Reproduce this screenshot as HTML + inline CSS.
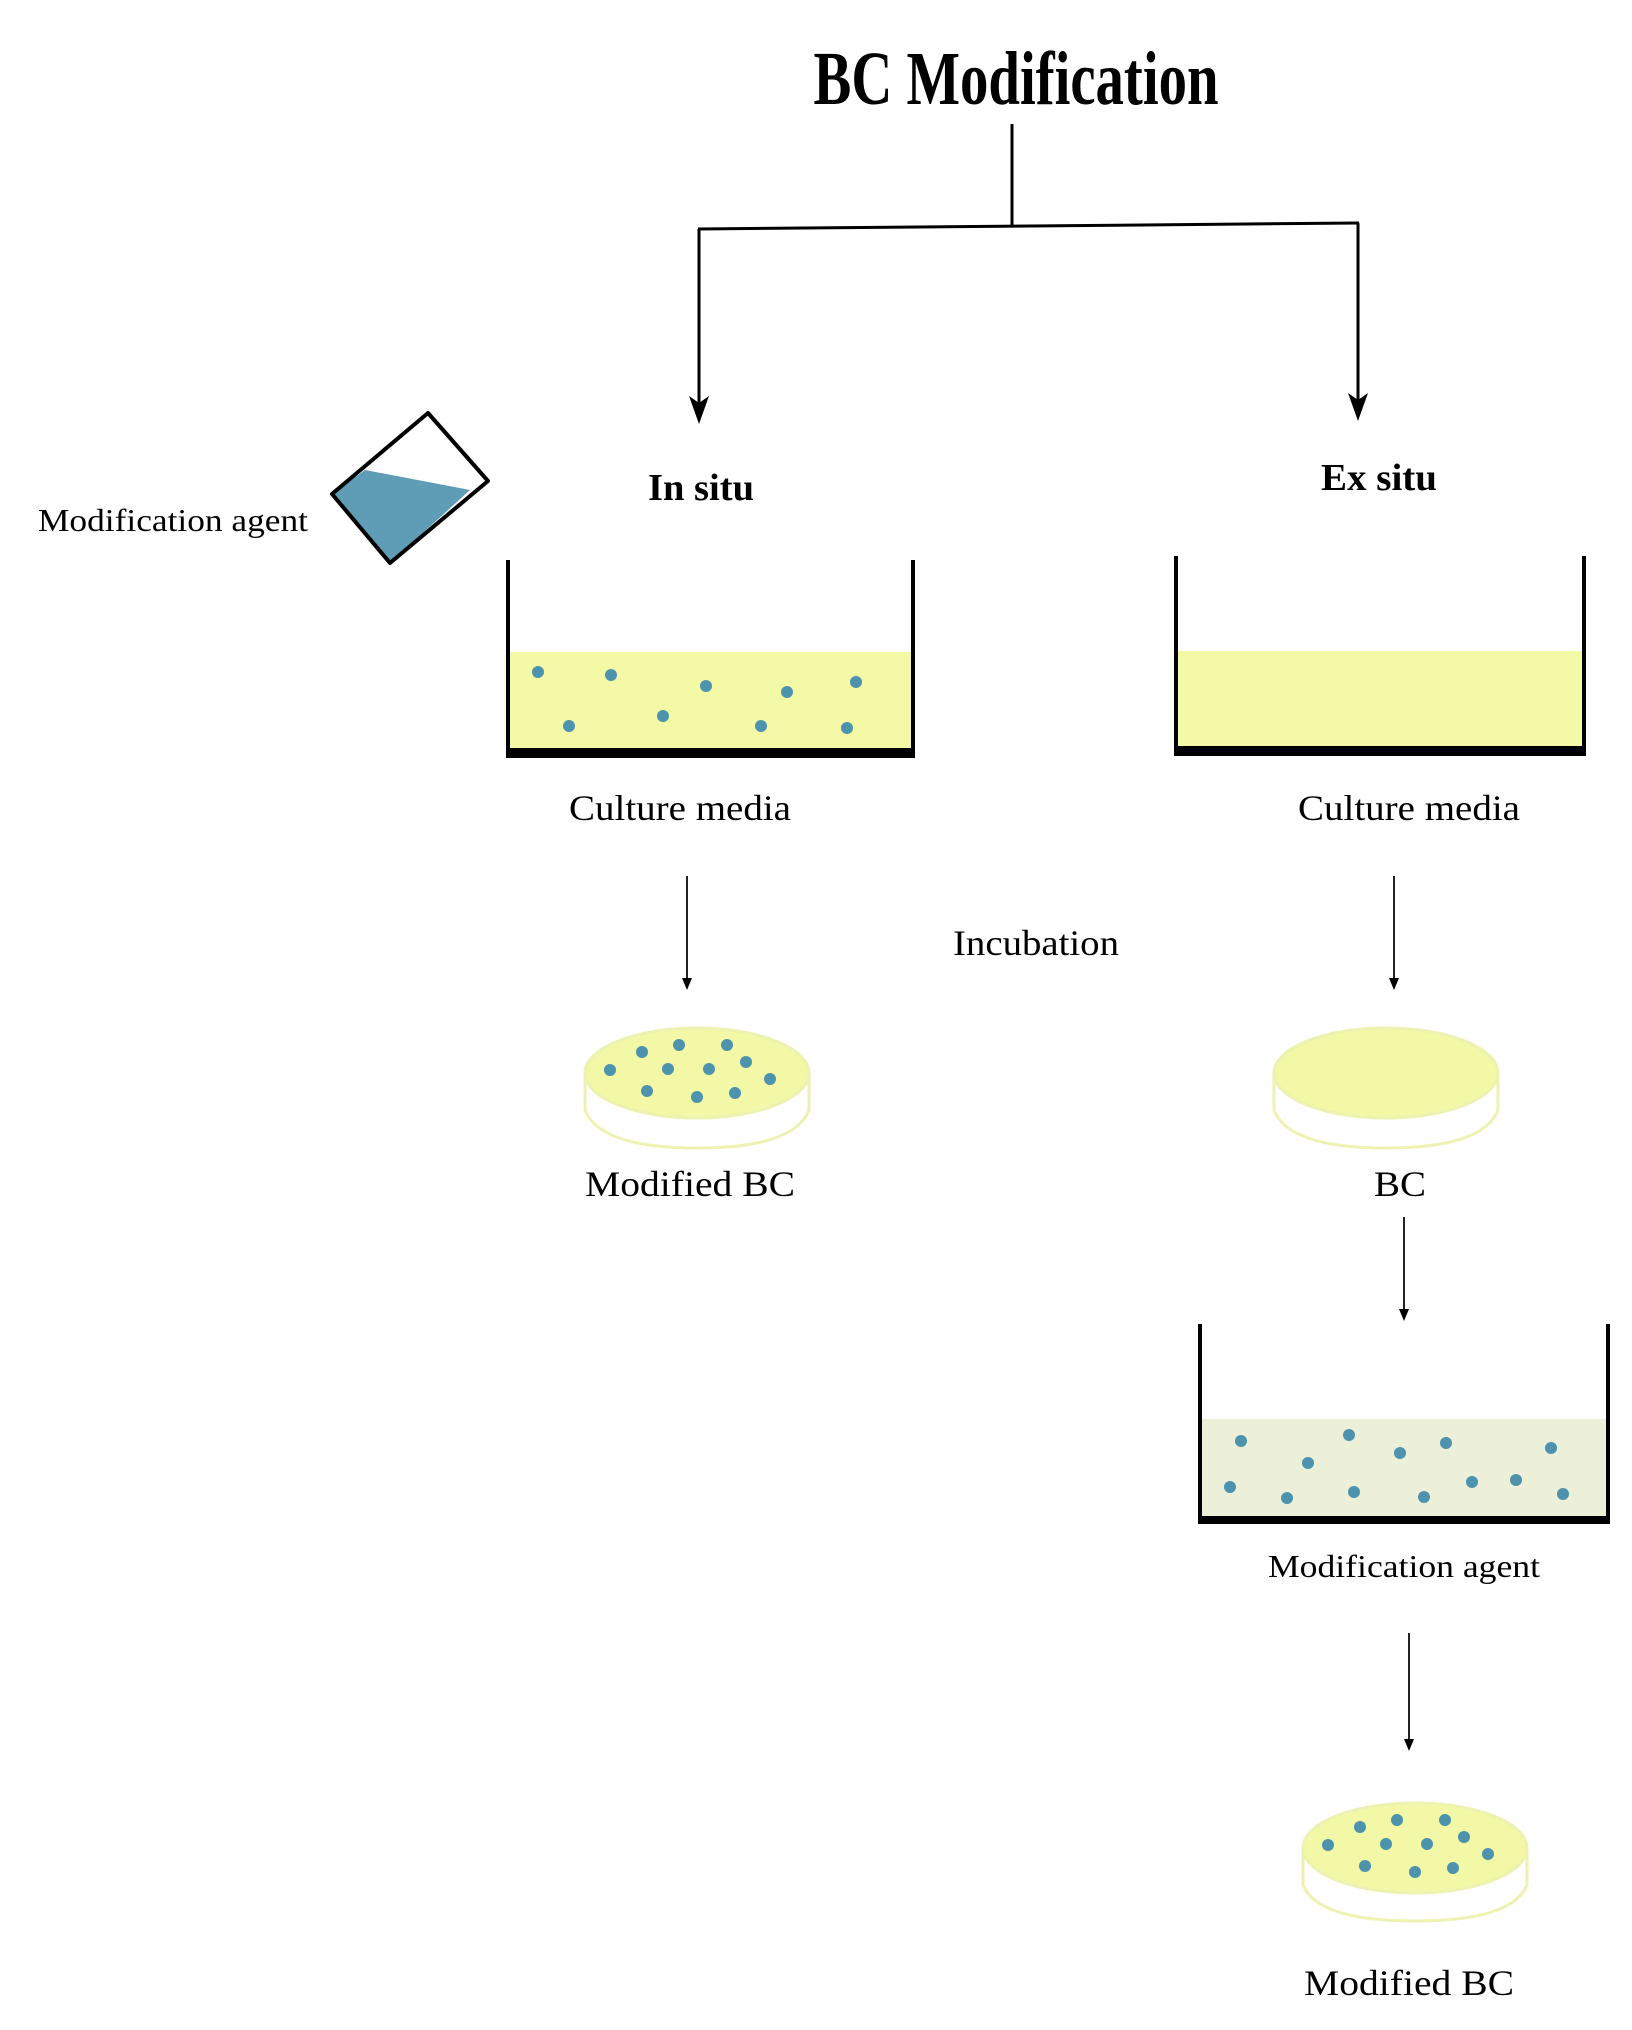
<!DOCTYPE html>
<html><head><meta charset="utf-8"><style>html,body{margin:0;padding:0;background:#fff}svg{display:block}</style></head>
<body>
<svg width="1632" height="2030" viewBox="0 0 1632 2030" xmlns="http://www.w3.org/2000/svg" font-family="'Liberation Serif', serif">
<text x="1016" y="104" text-anchor="middle" font-size="76" font-weight="bold" textLength="405" lengthAdjust="spacingAndGlyphs">BC Modification</text>
<line x1="1012" y1="124" x2="1012" y2="226" stroke="#000" stroke-width="3"/>
<line x1="698" y1="229" x2="1359" y2="223" stroke="#000" stroke-width="3"/>
<line x1="699" y1="229" x2="699" y2="405" stroke="#000" stroke-width="3"/>
<polygon points="689,396 699,403 709,396 699,424" fill="#000"/>
<line x1="1358" y1="223" x2="1358" y2="402" stroke="#000" stroke-width="3"/>
<polygon points="1348,393 1358,400 1368,393 1358,421" fill="#000"/>
<text x="701" y="500" text-anchor="middle" font-size="38" font-weight="bold" textLength="106" lengthAdjust="spacingAndGlyphs">In situ</text>
<text x="1379" y="490" text-anchor="middle" font-size="38" font-weight="bold" textLength="116" lengthAdjust="spacingAndGlyphs">Ex situ</text>
<text x="173" y="531" text-anchor="middle" font-size="32" textLength="270" lengthAdjust="spacingAndGlyphs">Modification agent</text>
<polygon points="365,470 470,490 390,563 332,494 350,481" fill="#5f9cb6"/>
<polygon points="428,413 488,481 390,563 332,494" fill="none" stroke="#000" stroke-width="4" stroke-linejoin="round"/>
<rect x="509" y="652" width="403" height="98" fill="#f3f9a4"/>
<g fill="#4e93ad"><circle cx="538" cy="672" r="6"/><circle cx="611" cy="675" r="6"/><circle cx="706" cy="686" r="6"/><circle cx="787" cy="692" r="6"/><circle cx="856" cy="682" r="6"/><circle cx="569" cy="726" r="6"/><circle cx="663" cy="716" r="6"/><circle cx="761" cy="726" r="6"/><circle cx="847" cy="728" r="6"/></g>
<path d="M508,560 V754 H913 V560" fill="none" stroke="#000" stroke-width="4"/>
<rect x="506" y="748" width="409" height="10" fill="#000"/>
<rect x="1177" y="651" width="406" height="97" fill="#f3f9a4"/>
<path d="M1176,556 V752 H1584 V556" fill="none" stroke="#000" stroke-width="4"/>
<rect x="1174" y="746" width="412" height="10" fill="#000"/>
<text x="680" y="820" text-anchor="middle" font-size="36" textLength="222" lengthAdjust="spacingAndGlyphs">Culture media</text>
<text x="1409" y="820" text-anchor="middle" font-size="36" textLength="222" lengthAdjust="spacingAndGlyphs">Culture media</text>
<line x1="687" y1="876" x2="687" y2="982" stroke="#222" stroke-width="2"/>
<polygon points="682,978 692,978 687,990" fill="#000"/>
<line x1="1394" y1="876" x2="1394" y2="982" stroke="#222" stroke-width="2"/>
<polygon points="1389,978 1399,978 1394,990" fill="#000"/>
<text x="1036" y="955" text-anchor="middle" font-size="36" textLength="166" lengthAdjust="spacingAndGlyphs">Incubation</text>
<g stroke="#eef2b0" stroke-width="3">
<path d="M585,1073 V1110 Q600,1148 697,1148 Q794,1148 809,1110 V1073" fill="#fff"/>
<ellipse cx="697" cy="1073" rx="112" ry="45" fill="#f2f8a6"/>
</g>
<g fill="#4e93ad"><circle cx="610" cy="1070" r="6"/><circle cx="642" cy="1052" r="6"/><circle cx="679" cy="1045" r="6"/><circle cx="727" cy="1045" r="6"/><circle cx="668" cy="1069" r="6"/><circle cx="709" cy="1069" r="6"/><circle cx="746" cy="1062" r="6"/><circle cx="647" cy="1091" r="6"/><circle cx="697" cy="1097" r="6"/><circle cx="735" cy="1093" r="6"/><circle cx="770" cy="1079" r="6"/></g>
<text x="690" y="1196" text-anchor="middle" font-size="36" textLength="210" lengthAdjust="spacingAndGlyphs">Modified BC</text>
<g stroke="#eef2b0" stroke-width="3">
<path d="M1274,1073 V1110 Q1289,1148 1386,1148 Q1483,1148 1498,1110 V1073" fill="#fff"/>
<ellipse cx="1386" cy="1073" rx="112" ry="45" fill="#f2f8a6"/>
</g>
<text x="1400" y="1196" text-anchor="middle" font-size="36" textLength="52" lengthAdjust="spacingAndGlyphs">BC</text>
<line x1="1404" y1="1217" x2="1404" y2="1313" stroke="#222" stroke-width="2"/>
<polygon points="1399,1309 1409,1309 1404,1321" fill="#000"/>
<rect x="1201" y="1419" width="406" height="98" fill="#ecf0d8"/>
<g fill="#4e93ad"><circle cx="1241" cy="1441" r="6"/><circle cx="1349" cy="1435" r="6"/><circle cx="1400" cy="1453" r="6"/><circle cx="1446" cy="1443" r="6"/><circle cx="1551" cy="1448" r="6"/><circle cx="1308" cy="1463" r="6"/><circle cx="1230" cy="1487" r="6"/><circle cx="1287" cy="1498" r="6"/><circle cx="1354" cy="1492" r="6"/><circle cx="1424" cy="1497" r="6"/><circle cx="1472" cy="1482" r="6"/><circle cx="1516" cy="1480" r="6"/><circle cx="1563" cy="1494" r="6"/></g>
<path d="M1200,1324 V1520 H1608 V1324" fill="none" stroke="#000" stroke-width="4"/>
<rect x="1198" y="1516" width="412" height="8" fill="#000"/>
<text x="1404" y="1577" text-anchor="middle" font-size="32" textLength="272" lengthAdjust="spacingAndGlyphs">Modification agent</text>
<line x1="1409" y1="1633" x2="1409" y2="1743" stroke="#222" stroke-width="2"/>
<polygon points="1404,1739 1414,1739 1409,1751" fill="#000"/>
<g stroke="#eef2b0" stroke-width="3">
<path d="M1303,1848 V1885 Q1318,1921 1415,1921 Q1512,1921 1527,1885 V1848" fill="#fff"/>
<ellipse cx="1415" cy="1848" rx="112" ry="45" fill="#f2f8a6"/>
</g>
<g fill="#4e93ad"><circle cx="1328" cy="1845" r="6"/><circle cx="1360" cy="1827" r="6"/><circle cx="1397" cy="1820" r="6"/><circle cx="1445" cy="1820" r="6"/><circle cx="1386" cy="1844" r="6"/><circle cx="1427" cy="1844" r="6"/><circle cx="1464" cy="1837" r="6"/><circle cx="1365" cy="1866" r="6"/><circle cx="1415" cy="1872" r="6"/><circle cx="1453" cy="1868" r="6"/><circle cx="1488" cy="1854" r="6"/></g>
<text x="1409" y="1995" text-anchor="middle" font-size="36" textLength="210" lengthAdjust="spacingAndGlyphs">Modified BC</text>
</svg>
</body></html>
